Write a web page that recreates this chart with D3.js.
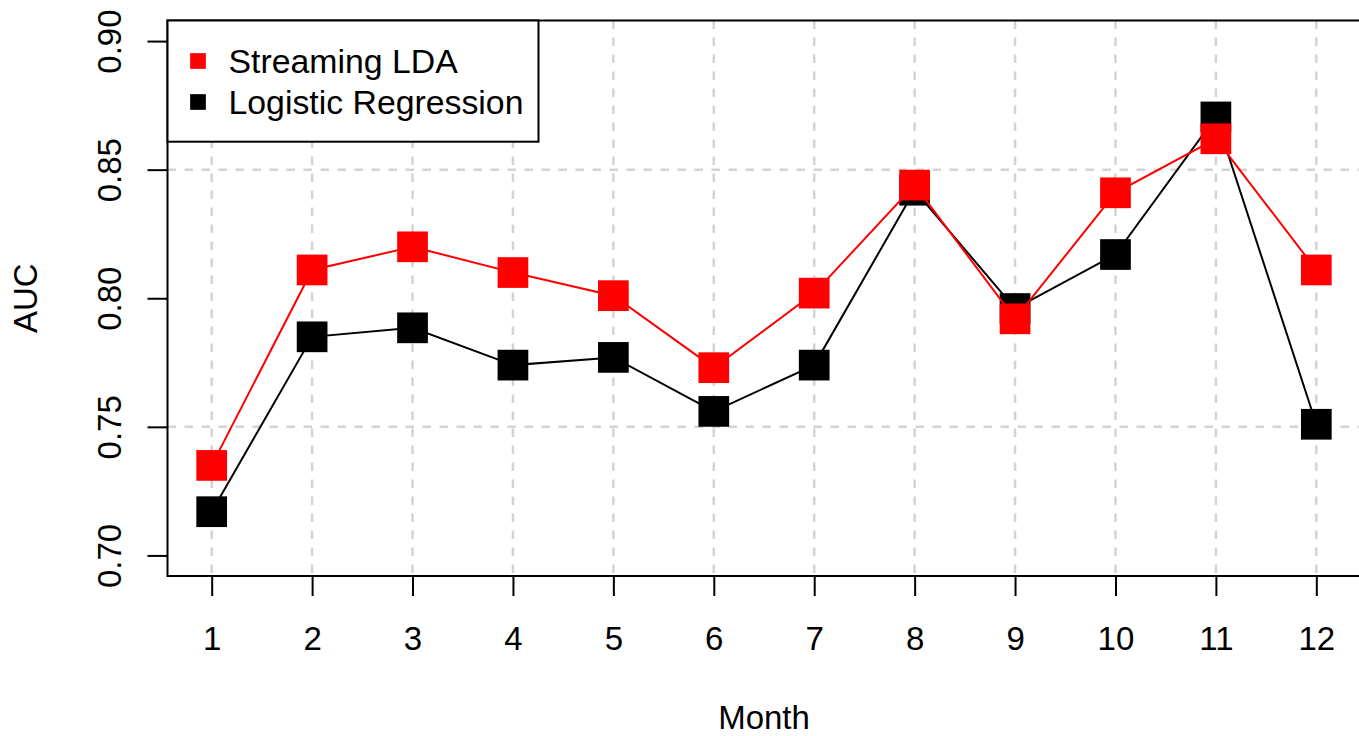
<!DOCTYPE html>
<html>
<head>
<meta charset="utf-8">
<script src="https://cdn.jsdelivr.net/npm/d3@7"></script>
<style>
  html, body { margin: 0; padding: 0; background: #fff; }
  svg { display: block; font-family: "Liberation Sans", Arial, Helvetica, sans-serif; }
</style>
</head>
<body>
<svg id="chart" width="1359" height="736"></svg>
<script>
// Monthly AUC for the two classifiers
const months = [1, 2, 3, 4, 5, 6, 7, 8, 9, 10, 11, 12];
const streamingLDA = [0.735, 0.811, 0.820, 0.810, 0.801, 0.773, 0.802, 0.844, 0.792, 0.841, 0.862, 0.811];
const logisticRegression = [0.717, 0.785, 0.7885, 0.774, 0.777, 0.756, 0.774, 0.842, 0.796, 0.817, 0.8705, 0.751];
const yTicks = [0.70, 0.75, 0.80, 0.85, 0.90];
const yGrid = [0.75, 0.85];
const seriesNames = ["Streaming LDA", "Logistic Regression"];

const svg = d3.select("#chart");
const box = { left: 167.5, right: 1360.5, top: 20.5, bottom: 576 };
const fontSize = 33;
const legendFontSize = 33.8;

// 4% padding on each side of the data range
const xDom = [1 - 0.04 * 11, 12 + 0.04 * 11];
const yDom = [0.70 - 0.04 * 0.2, 0.90 + 0.04 * 0.2];
const x = d3.scaleLinear().domain(xDom).range([box.left, box.right]);
const y = d3.scaleLinear().domain(yDom).range([box.bottom, box.top]);

// grid
const grid = svg.append("g")
  .attr("stroke", "#d3d3d3").attr("stroke-width", 2.5).attr("stroke-dasharray", "8.5,8.5");
grid.selectAll("line.v").data(months).join("line").attr("class", "v")
  .attr("x1", d => x(d)).attr("x2", d => x(d))
  .attr("y1", box.top).attr("y2", box.bottom);
grid.selectAll("line.h").data(yGrid).join("line").attr("class", "h")
  .attr("x1", box.left).attr("x2", box.right)
  .attr("y1", d => y(d)).attr("y2", d => y(d));

// x axis
const xAxis = svg.append("g")
  .attr("transform", `translate(0,${box.bottom})`)
  .call(d3.axisBottom(x).tickValues(months).tickSize(20).tickPadding(31).tickFormat(d3.format("d")));
xAxis.select(".domain").remove();
xAxis.selectAll(".tick line").attr("stroke", "#000").attr("stroke-width", 2);
xAxis.selectAll(".tick text").attr("font-size", fontSize).attr("fill", "#000")
  .attr("font-family", "Liberation Sans, Arial, sans-serif");

// y axis with rotated labels
const yAxis = svg.append("g")
  .attr("transform", `translate(${box.left},0)`)
  .call(d3.axisLeft(y).tickValues(yTicks).tickSize(20).tickFormat(d3.format(".2f")));
yAxis.select(".domain").remove();
yAxis.selectAll(".tick line").attr("stroke", "#000").attr("stroke-width", 2);
yAxis.selectAll(".tick text")
  .attr("font-size", fontSize).attr("fill", "#000")
  .attr("font-family", "Liberation Sans, Arial, sans-serif")
  .attr("x", 0).attr("y", 0).attr("dy", 0)
  .attr("text-anchor", "middle")
  .attr("transform", "translate(-46.5,0) rotate(-90)");

// plot frame
svg.append("rect")
  .attr("x", box.left).attr("y", box.top)
  .attr("width", box.right - box.left).attr("height", box.bottom - box.top)
  .attr("fill", "none").attr("stroke", "#000").attr("stroke-width", 2);

// series: lines under square markers
const series = [
  { name: seriesNames[1], values: logisticRegression, color: "#000000" },
  { name: seriesNames[0], values: streamingLDA, color: "#ff0000" }
];
const line = d3.line().x((d, i) => x(months[i])).y(d => y(d));
const sq = 30.7;
series.forEach(s => {
  const g = svg.append("g");
  g.append("path").attr("d", line(s.values))
    .attr("fill", "none").attr("stroke", s.color).attr("stroke-width", 2);
  g.selectAll("rect").data(s.values).join("rect")
    .attr("x", (d, i) => x(months[i]) - sq / 2)
    .attr("y", d => y(d) - sq / 2)
    .attr("width", sq).attr("height", sq)
    .attr("fill", s.color);
});

// axis titles
svg.append("text").text("Month")
  .attr("x", (box.left + box.right) / 2).attr("y", 729)
  .attr("text-anchor", "middle").attr("font-size", fontSize);
svg.append("text").text("AUC")
  .attr("transform", `translate(37,${(box.top + box.bottom) / 2}) rotate(-90)`)
  .attr("text-anchor", "middle").attr("font-size", fontSize);

// legend
const legend = svg.append("g");
legend.append("rect")
  .attr("x", box.left).attr("y", box.top)
  .attr("width", 538.5 - box.left).attr("height", 141.7 - box.top)
  .attr("fill", "#fff").attr("stroke", "#000").attr("stroke-width", 2);
const legendItems = [
  { name: seriesNames[0], color: "#ff0000" },
  { name: seriesNames[1], color: "#000000" }
];
const keySize = 15.7;
legendItems.forEach((it, i) => {
  const cy = 61 + i * 41;
  legend.append("rect")
    .attr("x", 198 - keySize / 2).attr("y", cy - keySize / 2)
    .attr("width", keySize).attr("height", keySize).attr("fill", it.color);
  legend.append("text").text(it.name)
    .attr("x", 228.5).attr("y", cy + 12)
    .attr("font-size", legendFontSize).attr("fill", "#000");
});
</script>
</body>
</html>
